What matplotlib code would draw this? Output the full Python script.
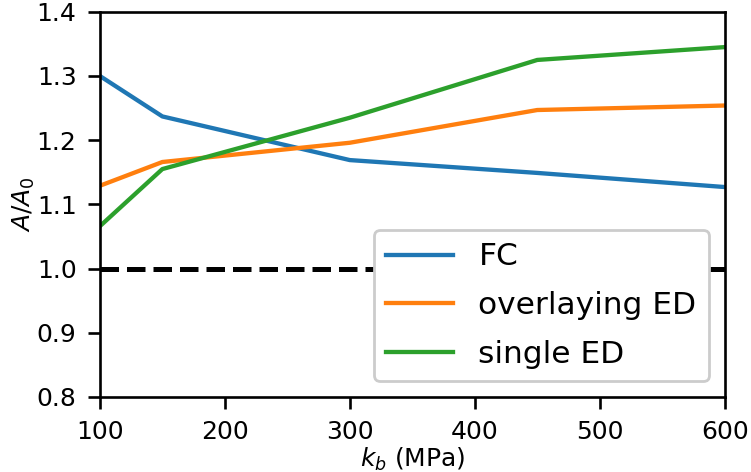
import matplotlib
matplotlib.use('Agg')
import matplotlib.pyplot as plt

# stiffness values (MPa)
kb = [100, 150, 300, 450, 600]
# area ratio A/A0 for each case
fc = [1.300, 1.237, 1.169, 1.149, 1.127]
overlaying_ed = [1.129, 1.166, 1.196, 1.247, 1.254]
single_ed = [1.066, 1.155, 1.235, 1.325, 1.345]
reference = 1.0

if __name__ == '__main__':
    fig = plt.figure(figsize=(7.51, 4.72), dpi=100)
    ax = fig.add_axes([0.133, 0.159, 0.832, 0.816])

    ax.axhline(reference, color='black', ls='--', lw=3.6)
    ax.plot(kb, fc, lw=3.1, label='FC')
    ax.plot(kb, overlaying_ed, lw=3.1, label='overlaying ED')
    ax.plot(kb, single_ed, lw=3.1, label='single ED')

    ax.set_xlim(100, 600)
    ax.set_ylim(0.8, 1.4)
    ax.set_xlabel('$k_b$ (MPa)', fontsize=18, labelpad=1)
    ax.set_ylabel('$A/A_0$', fontsize=18, labelpad=0)
    ax.tick_params(labelsize=18, width=1.9, length=8.4, pad=8.4)
    for s in ax.spines.values():
        s.set_linewidth(1.9)

    leg = ax.legend(loc='lower right', fontsize=22.5, handlelength=2.15,
                    labelspacing=0.63, framealpha=1)
    leg.get_frame().set_linewidth(2)

    fig.savefig('out.png', dpi=100)
